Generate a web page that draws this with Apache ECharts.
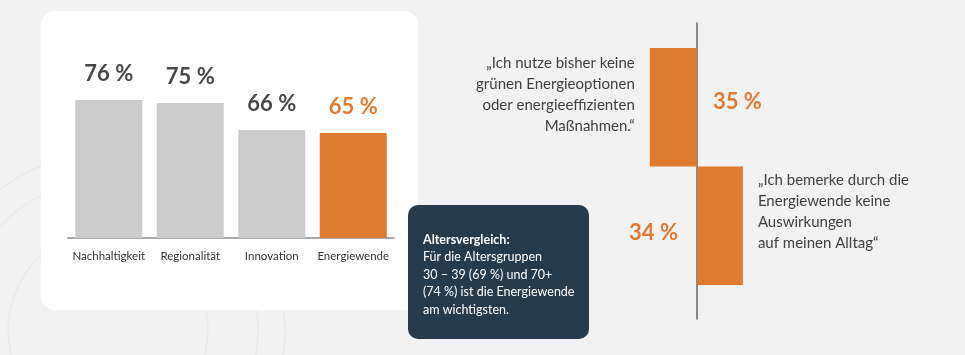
<!DOCTYPE html>
<html>
<head>
<meta charset="utf-8">
<script src="https://cdn.jsdelivr.net/npm/echarts@6/dist/echarts.min.js"></script>
<style>
html,body{margin:0;padding:0;background:#f2f2f2;}
#c{width:965px;height:355px;}
</style>
</head>
<body>
<div id="c"></div>
<script>
// Left chart data
var categories = ['Nachhaltigkeit', 'Regionalität', 'Innovation', 'Energiewende'];
var shares = [76, 75, 66, 65];
var highlighted = [false, false, false, true];

// Right chart data
var statements = [
  '„Ich nutze bisher keine\ngrünen Energieoptionen\noder energieeffizienten\nMaßnahmen.“',
  '„Ich bemerke durch die\nEnergiewende keine\nAuswirkungen\nauf meinen Alltag“'
];
var statementShares = [35, 34];
var statementSides = [-1, 1];

// Info box
var infoTitle = 'Altersvergleich:';
var infoLines = ['Für die Altersgruppen', '30 – 39 (69 %) und 70+', '(74 %) ist die Energiewende', 'am wichtigsten.'];

var ORANGE = '#df7a31';
var GRAY = '#cccccc';
var DARK = '#474846';
var FONT = 'Lato, "Open Sans", sans-serif';

var chart = echarts.init(document.getElementById('c'), null, {renderer: 'canvas'});

var leftData = shares.map(function (v, i) {
  return {
    value: v,
    itemStyle: {color: highlighted[i] ? ORANGE : GRAY},
    label: {color: highlighted[i] ? ORANGE : DARK}
  };
});

var signed = statementShares.map(function (v, i) { return v * statementSides[i]; });

var barData = signed.map(function (v, i) {
  return {
    value: v,
    label: {
      position: statementSides[i] < 0 ? 'right' : 'left',
      distance: statementSides[i] < 0 ? 16 : 19,
      offset: statementSides[i] < 0 ? [0, -5] : [0, 7]
    }
  };
});

var quoteData = signed.map(function (v, i) {
  return {
    value: v,
    label: {
      position: statementSides[i] < 0 ? 'left' : 'right',
      align: statementSides[i] < 0 ? 'right' : 'left',
      offset: statementSides[i] < 0 ? [0, -13] : [0, -14]
    }
  };
});

var option = {
  backgroundColor: '#f2f2f2',
  animation: false,
  textStyle: {fontFamily: FONT},
  graphic: [
    {type: 'circle', z: -10, shape: {cx: 108, cy: 330, r: 100}, style: {fill: 'none', stroke: '#efe7e0', lineWidth: 1.2}},
    {type: 'circle', z: -10, shape: {cx: 108, cy: 330, r: 150}, style: {fill: 'none', stroke: '#efe7e0', lineWidth: 1.2}},
    {type: 'circle', z: -10, shape: {cx: 108, cy: 330, r: 177}, style: {fill: 'none', stroke: '#efe7e0', lineWidth: 1.2}},
    {type: 'rect', z: -5, shape: {x: 41, y: 11, width: 377, height: 299, r: 14}, style: {fill: '#ffffff'}},
    {
      type: 'group', z: 100,
      children: [
        {type: 'rect', shape: {x: 408, y: 205, width: 181, height: 134, r: 10}, style: {fill: '#253b4c'}},
        {
          type: 'text', x: 423, y: 231,
          style: {
            text: '{b|' + infoTitle + '}\n' + infoLines.join('\n'),
            fill: '#ffffff', font: '12.5px ' + FONT, lineHeight: 17.5,
            rich: {b: {fontWeight: 'bold', fontSize: 12.5, fill: '#ffffff', lineHeight: 17.5, fontFamily: FONT}}
          }
        }
      ]
    }
  ],
  grid: [
    {left: 68, width: 326, top: 28, height: 210},
    {left: 629.5, width: 135, top: 48, height: 237},
    {left: 629.5, width: 135, top: 23, height: 296}
  ],
  xAxis: [
    {
      gridIndex: 0, type: 'category', data: categories,
      axisLine: {lineStyle: {color: '#8a8a8a', width: 1.5}},
      axisTick: {show: false},
      axisLabel: {color: '#333333', fontSize: 11.5, margin: 12, fontFamily: FONT, interval: 0}
    },
    {gridIndex: 1, type: 'value', min: -50, max: 50, show: false},
    {gridIndex: 2, type: 'value', min: -50, max: 50, show: false}
  ],
  yAxis: [
    {gridIndex: 0, type: 'value', min: 30, max: 100, show: false},
    {gridIndex: 1, type: 'category', data: statements, inverse: true, show: false},
    {
      gridIndex: 2, type: 'category', data: [],
      axisLine: {show: true, onZero: true, lineStyle: {color: '#666666', width: 1.5}},
      axisTick: {show: false}, axisLabel: {show: false}, splitLine: {show: false}
    }
  ],
  series: [
    {
      type: 'bar', xAxisIndex: 0, yAxisIndex: 0, barWidth: 67,
      data: leftData,
      label: {
        show: true, position: 'top', distance: 15,
        fontSize: 22, fontWeight: 'bold', fontFamily: FONT,
        formatter: '{c} %'
      }
    },
    {
      type: 'bar', xAxisIndex: 1, yAxisIndex: 1, barWidth: '100%',
      itemStyle: {color: ORANGE},
      data: barData,
      label: {
        show: true, color: ORANGE, fontSize: 22, fontWeight: 'bold', fontFamily: FONT,
        formatter: function (p) { return Math.abs(p.value) + ' %'; }
      }
    },
    {
      type: 'bar', xAxisIndex: 1, yAxisIndex: 1, barWidth: '100%', barGap: '-100%',
      itemStyle: {color: 'rgba(0,0,0,0)'},
      data: quoteData, silent: true,
      label: {
        show: true, color: '#3f3f3f', fontSize: 15, lineHeight: 21, distance: 15, fontFamily: FONT,
        formatter: function (p) { return p.name; }
      }
    }
  ]
};
chart.setOption(option);
</script>
</body>
</html>
